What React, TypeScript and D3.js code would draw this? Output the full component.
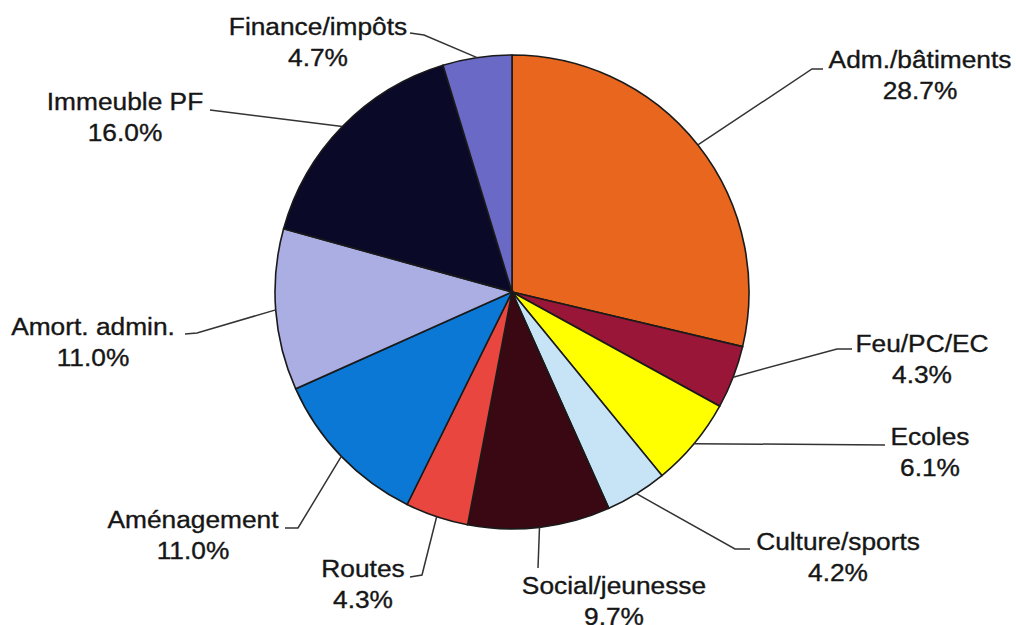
import React from 'react';
import * as d3 from 'd3';

// parts of the budget, clockwise from 12 o'clock
const categories = ['Adm./bâtiments', 'Feu/PC/EC', 'Ecoles', 'Culture/sports', 'Social/jeunesse',
  'Routes', 'Aménagement', 'Amort. admin.', 'Immeuble PF', 'Finance/impôts'];
const shares = [28.7, 4.3, 6.1, 4.2, 9.7, 4.3, 11.0, 11.0, 16.0, 4.7];
const colors = ['#e8661e', '#9a1638', '#ffff00', '#c6e4f6', '#3a0812',
  '#e8463e', '#0a78d4', '#aaaee2', '#0a0a28', '#6a6ac6'];

// label placement: text centre + baseline, then the elbow points of the leader (from text towards pie)
const labelLayout = [
  { x: 920, y: 68, leader: [[823, 69], [812, 69]] },
  { x: 922, y: 352, leader: [[852, 349], [837, 349]] },
  { x: 930, y: 445, leader: [[885, 445]] },
  { x: 838, y: 550, leader: [[750, 549], [735, 549]] },
  { x: 614, y: 594, leader: [[538, 568]] },
  { x: 363, y: 577, leader: [[410, 577], [422, 575]] },
  { x: 193, y: 528, leader: [[285, 528], [298, 528]] },
  { x: 93, y: 335, leader: [[185, 334], [197, 333]] },
  { x: 125, y: 110, leader: [[210, 110]] },
  { x: 318, y: 35, leader: [[410, 33], [424, 35]] },
];

const width = 1016;
const height = 625;
const cx = 512;
const cy = 292;
const radius = 237;

export default function App() {
  const pie = d3.pie<number>().sort(null).value(d => d);
  const arcs = pie(shares);
  const arc = d3.arc<d3.PieArcDatum<number>>().innerRadius(0).outerRadius(radius);
  const edge = d3.arc<d3.PieArcDatum<number>>().innerRadius(radius).outerRadius(radius);
  const line = d3.line();
  const fmt = d3.format('.1f');

  return (
    <svg width={width} height={height} style={{ position: 'absolute', left: 0, top: 0, background: '#fff' }}
      fontFamily="'Liberation Sans', Arial, sans-serif">
      <g transform={`translate(${cx},${cy})`}>
        {arcs.map((a, i) => (
          <path key={i} d={arc(a) || ''} fill={colors[i]} stroke="#1a1a1a" strokeWidth={1.6} />
        ))}
      </g>
      {arcs.map((a, i) => {
        const [ex, ey] = edge.centroid(a);
        const lay = labelLayout[i];
        const pts: [number, number][] = [...lay.leader.map(p => [p[0], p[1]] as [number, number]), [cx + ex, cy + ey]];
        return (
          <g key={'l' + i}>
            <path d={line(pts) || ''} fill="none" stroke="#333" strokeWidth={1.5} />
            <text transform={`translate(${lay.x},${lay.y}) scale(1.12,1)`} textAnchor="middle"
              fontSize={23.5} fill="#161616" stroke="#161616" strokeWidth={0.35}>
              <tspan x={0} y={0}>{categories[i]}</tspan>
              <tspan x={0} y={31}>{fmt(shares[i])}%</tspan>
            </text>
          </g>
        );
      })}
    </svg>
  );
}
